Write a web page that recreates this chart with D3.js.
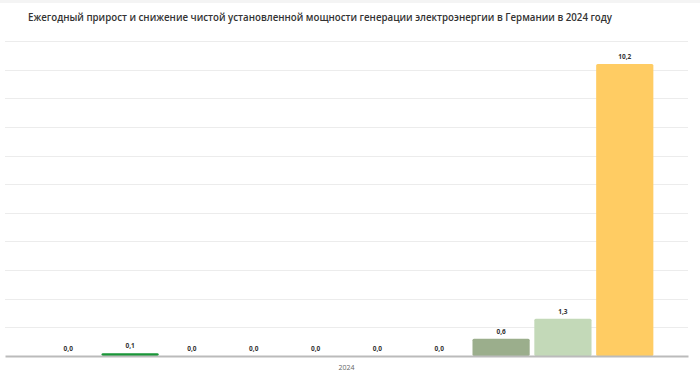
<!DOCTYPE html>
<html lang="ru">
<head>
<meta charset="UTF-8">
<title>Прирост мощности</title>
<script src="https://cdn.jsdelivr.net/npm/d3@7"></script>
<style>
  body { margin: 0; background: #fff; font-family: "Open Sans", sans-serif; }
</style>
</head>
<body>
<svg id="chart" width="700" height="374"></svg>
<script>
// данные
const categories = ["2024"];
const seriesNames = ["Атомная", "Биомасса", "Бурый уголь", "Каменный уголь", "Нефть", "Газ", "Гидро", "Ветер офшор", "Ветер суша", "Солнце"];
const seriesValues = [0.0, 0.1, 0.0, 0.0, 0.0, 0.0, 0.0, 0.6, 1.3, 10.2];
const seriesColors = ["#e4032c", "#1a9638", "#8b5a2b", "#444444", "#888888", "#d08a4e", "#2a7fd6", "#9bae8c", "#c3d9b8", "#ffcc63"];
const yTicks = [0, 1, 2, 3, 4, 5, 6, 7, 8, 9, 10, 11];

const svg = d3.select("#chart");
const width = +svg.attr("width");
const height = +svg.attr("height");
const margin = { top: 41, right: 12, bottom: 18, left: 5 };

// тонкая полоса сверху
svg.append("rect")
  .attr("x", 0).attr("y", 0)
  .attr("width", width).attr("height", 3)
  .attr("fill", "#f4f4f4");

svg.append("text")
  .attr("x", 28)
  .attr("y", 21)
  .attr("fill", "#333")
  .attr("textLength", 584)
  .attr("lengthAdjust", "spacingAndGlyphs")
  .style("font-size", "11px")
  .style("font-weight", 600)
  .text("Ежегодный прирост и снижение чистой установленной мощности генерации электроэнергии в Германии в 2024 году");

const x0 = d3.scaleBand()
  .domain(categories)
  .range([margin.left, width - margin.right])
  .paddingInner(0)
  .paddingOuter(0.052);

const x1 = d3.scaleBand()
  .domain(seriesNames)
  .range([0, x0.bandwidth()])
  .paddingInner(0.075)
  .paddingOuter(0.04);

const y = d3.scaleLinear()
  .domain([0, 11])
  .range([height - margin.bottom, margin.top]);

// сетка
svg.append("g")
  .selectAll("line")
  .data(yTicks.slice(1))
  .join("line")
  .attr("x1", margin.left)
  .attr("x2", width - margin.right)
  .attr("y1", d => Math.round(y(d)) + 0.5)
  .attr("y2", d => Math.round(y(d)) + 0.5)
  .attr("stroke", "#ececec");

const group = svg.append("g")
  .selectAll("g")
  .data(categories)
  .join("g")
  .attr("transform", d => `translate(${x0(d)},0)`);

const rows = seriesNames.map((name, i) => ({ name, value: seriesValues[i], color: seriesColors[i] }));

group.selectAll("rect")
  .data(rows)
  .join("rect")
  .attr("x", d => x1(d.name))
  .attr("y", d => y(d.value))
  .attr("width", x1.bandwidth())
  .attr("height", d => y(0) - y(d.value))
  .attr("rx", 1.5)
  .attr("fill", d => d.color);

group.selectAll("text")
  .data(rows)
  .join("text")
  .attr("x", d => x1(d.name) + x1.bandwidth() / 2)
  .attr("y", d => y(d.value) - 5)
  .attr("text-anchor", "middle")
  .attr("fill", "#333")
  .style("font-size", "6.5px")
  .style("font-weight", 700)
  .text(d => d.value.toFixed(1).replace(".", ","));

// ось X
const xAxis = svg.append("g")
  .attr("transform", `translate(0,${y(0)})`)
  .call(d3.axisBottom(x0).tickSize(0).tickPadding(9));
xAxis.select(".domain").attr("stroke", "#bbb").attr("stroke-width", 2);
xAxis.selectAll("text")
  .attr("fill", "#666")
  .style("font-family", "Open Sans, sans-serif")
  .style("font-size", "7px");
</script>
</body>
</html>
